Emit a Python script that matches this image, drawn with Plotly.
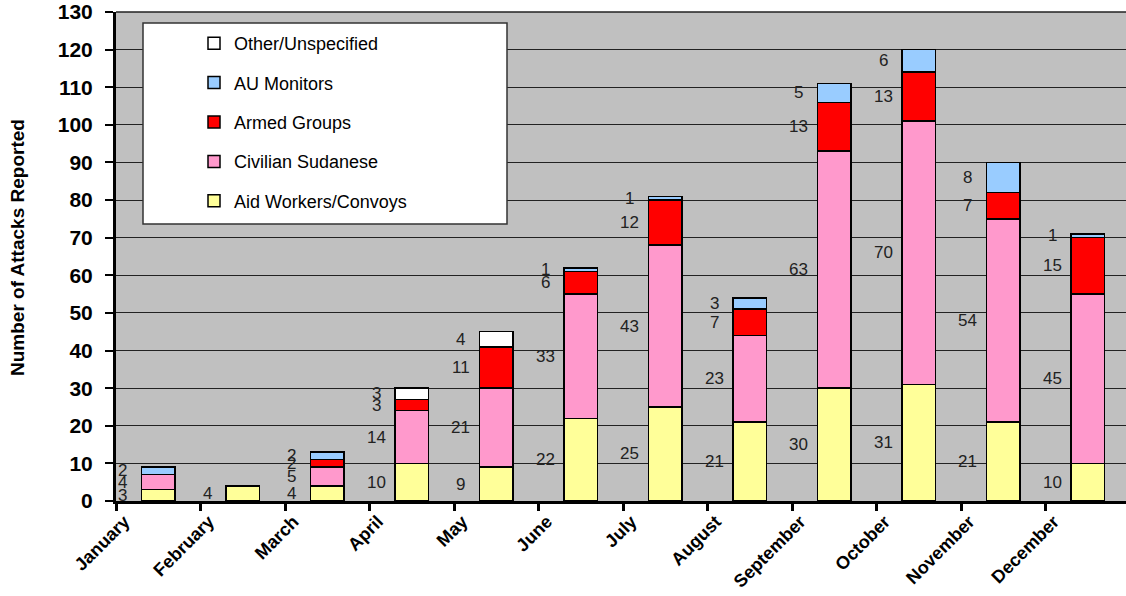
import plotly.graph_objects as go

months = ["January", "February", "March", "April", "May", "June", "July",
          "August", "September", "October", "November", "December"]
aid_workers = [3, 4, 4, 10, 9, 22, 25, 21, 30, 31, 21, 10]
civilian = [4, 0, 5, 14, 21, 33, 43, 23, 63, 70, 54, 45]
armed = [0, 0, 2, 3, 11, 6, 12, 7, 13, 13, 7, 15]
au_monitors = [2, 0, 2, 0, 0, 1, 1, 3, 5, 6, 8, 1]
other = [0, 0, 0, 3, 4, 0, 0, 0, 0, 0, 0, 0]
y_ticks = list(range(0, 131, 10))

series = [
    ("Aid Workers/Convoys", aid_workers, "#FFFF99"),
    ("Civilian Sudanese", civilian, "#FF99CC"),
    ("Armed Groups", armed, "#FF0000"),
    ("AU Monitors", au_monitors, "#99CCFF"),
    ("Other/Unspecified", other, "#FFFFFF"),
]

FONT = "Arial, Liberation Sans, sans-serif"
L, T = 116, 12          # plot-area left / top in page pixels
PW, PH = 1010, 489      # plot-area size
W, H = 1126, 596
xpos = [i + 0.5 for i in range(len(months))]

fig = go.Figure()
for k, (name, vals, color) in enumerate(series):
    fig.add_trace(go.Bar(
        x=xpos, y=vals, name=name, width=0.4,
        marker=dict(color=color, line=dict(color="black", width=1.5)),
        legendgroup=f"g{k}", legendrank=len(series) - k,
        hoverinfo="skip",
    ))

annotations = []
base = [0] * len(months)
for name, vals, color in series:
    for i, v in enumerate(vals):
        if v > 0:
            annotations.append(dict(
                x=i + 0.08, y=base[i] + v / 2, xref="x", yref="y",
                text=str(v), showarrow=False, xanchor="center", yanchor="middle",
                font=dict(family=FONT, size=17, color="#222222"),
            ))
        base[i] += v

annotations.append(dict(
    x=(17 - L) / PW, y=1 - (248 - T) / PH, xref="paper", yref="paper",
    text="<b>Number of Attacks Reported</b>", textangle=-90, showarrow=False,
    xanchor="center", yanchor="middle",
    font=dict(family=FONT, size=19, color="black"),
))

shapes = [
    dict(type="rect", xref="paper", yref="paper",
         x0=(143 - L) / PW, x1=(507 - L) / PW,
         y0=1 - (224 - T) / PH, y1=1 - (23 - T) / PH,
         fillcolor="white", line=dict(color="#333333", width=1.5), layer="above"),
    dict(type="line", xref="paper", yref="paper", x0=0, x1=1, y0=1, y1=1,
         line=dict(color="#222222", width=1.5)),
]

fig.update_layout(
    width=W, height=H,
    margin=dict(l=L, r=0, t=T, b=H - T - PH),
    plot_bgcolor="#C0C0C0", paper_bgcolor="white",
    barmode="stack",
    showlegend=True,
    legend=dict(
        x=(194 - L) / PW, y=1 - (25 - T) / PH, xanchor="left", yanchor="top",
        traceorder="grouped", tracegroupgap=13,
        bgcolor="rgba(0,0,0,0)", borderwidth=0,
        font=dict(family=FONT, size=18, color="black"),
        itemclick=False,
    ),
    annotations=annotations,
    shapes=shapes,
    xaxis=dict(
        range=[0, PW / 84.5],
        tickmode="array",
        tickvals=[i + 0.1 for i in range(len(months))], ticktext=months,
        tickangle=-45,
        tickfont=dict(family=FONT, size=18, color="black", weight="bold"),
        ticks="", ticklabelstandoff=0,
        minor=dict(tickmode="array", tickvals=list(range(len(months))),
                   ticks="outside", ticklen=7, tickwidth=3, tickcolor="black",
                   showgrid=False),
        showline=True, linecolor="black", linewidth=3,
        showgrid=False, zeroline=False, automargin=False,
    ),
    yaxis=dict(
        range=[0, 130], tickvals=y_ticks,
        tickfont=dict(family=FONT, size=21, color="black", weight="bold"),
        ticks="outside", ticklen=8, tickwidth=2, tickcolor="black",
        ticklabelstandoff=8,
        showline=True, linecolor="black", linewidth=3,
        showgrid=True, gridcolor="#222222", gridwidth=1,
        zeroline=False, automargin=False,
    ),
)

fig.write_html("out.html", config={"displayModeBar": False},
               post_script="document.body.style.margin='0';")
